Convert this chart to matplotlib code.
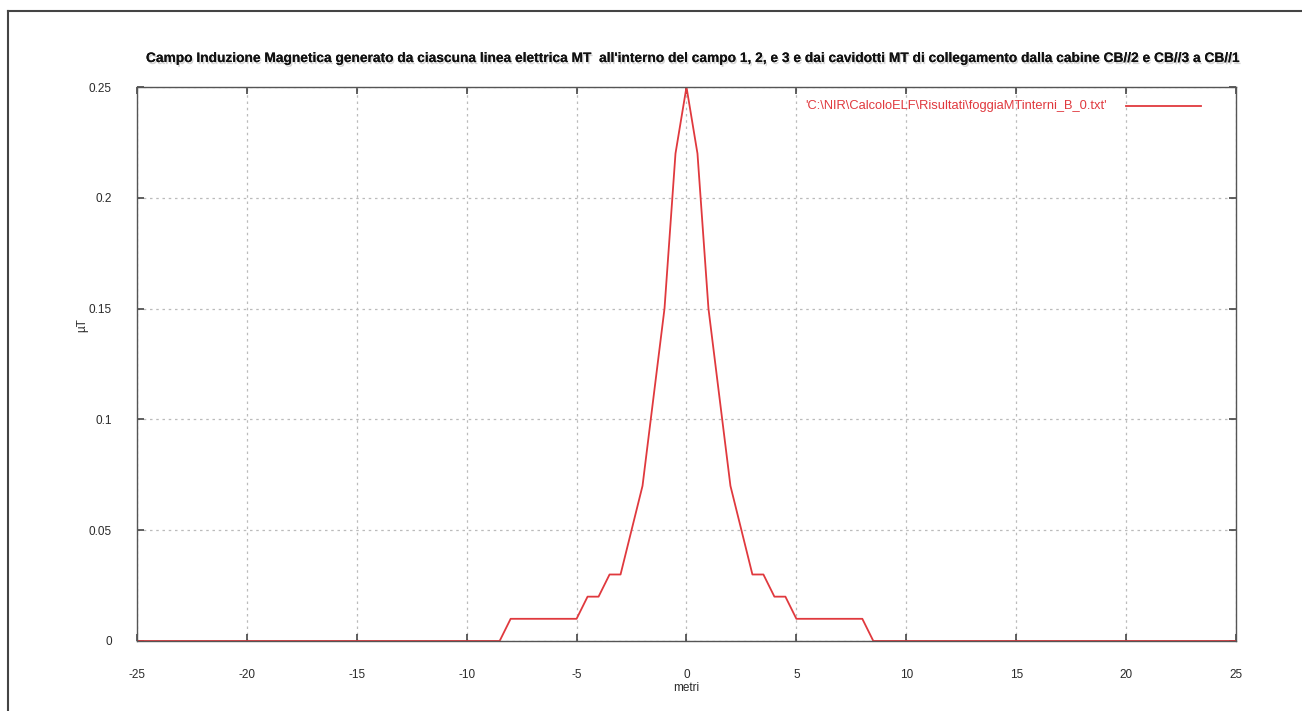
import numpy as np
import matplotlib
matplotlib.use("Agg")
import matplotlib.pyplot as plt
import matplotlib.patheffects as pe
from matplotlib.lines import Line2D

plt.rcParams['font.family'] = ['Liberation Sans', 'DejaVu Sans']

# dati (metri, microTesla)
metri = [-25, -8.5, -8, -5, -4.5, -4, -3.5, -3, -2.5, -2, -1.5, -1, -0.5, 0,
         0.5, 1, 1.5, 2, 2.5, 3, 3.5, 4, 4.5, 5, 8, 8.5, 25]
campo_uT = [0, 0, 0.01, 0.01, 0.02, 0.02, 0.03, 0.03, 0.05, 0.07, 0.11, 0.15, 0.22, 0.25,
            0.22, 0.15, 0.11, 0.07, 0.05, 0.03, 0.03, 0.02, 0.02, 0.01, 0.01, 0, 0]

xticks = [-25, -20, -15, -10, -5, 0, 5, 10, 15, 20, 25]
yticks = [0, 0.05, 0.1, 0.15, 0.2, 0.25]
ylabels = ["0", "0.05", "0.1", "0.15", "0.2", "0.25"]

titolo = ("Campo Induzione Magnetica generato da ciascuna linea elettrica MT  all'interno del campo 1, 2, e 3 "
          "e dai cavidotti MT di collegamento dalla cabine CB//2 e CB//3 a CB//1")
legenda = "'C:\\NIR\\CalcoloELF\\Risultati\\foggiaMTinterni_B_0.txt'"

rosso = '#e0393e'
grigio = '#444444'

fig = plt.figure(figsize=(13.02, 7.11), dpi=100)
ax = fig.add_axes([0.1052, 0.0985, 0.8441, 0.7791])

ax.plot(metri, campo_uT, color=rosso, lw=1.3)

ax.set_xlim(-25, 25)
ax.set_ylim(0, 0.25)
ax.set_xticks(xticks)
ax.set_xticklabels([str(v) for v in xticks])
ax.set_yticks(yticks)
ax.set_yticklabels(ylabels)

ax.tick_params(direction='in', length=5, width=1.2, color=grigio, labelcolor='#2a2a2a',
               labelsize=8.5, top=True, right=True)
ax.tick_params(axis='x', pad=20)
ax.tick_params(axis='y', pad=18)
for s in ax.spines.values():
    s.set_color('#555555')
    s.set_linewidth(1.0)

ax.grid(True, color='#bbbbbb', linestyle=(0, (2, 3)), linewidth=0.9)
ax.set_axisbelow(True)

ax.set_xlabel("metri", fontsize=8.5, color='#2a2a2a')
ax.set_ylabel("\u00b5T", fontsize=8.5, color='#2a2a2a')
ax.xaxis.set_label_coords(0.5, -0.074)
ax.yaxis.set_label_coords(-0.0446, 0.57)

t = fig.text(0.533, 0.9184, titolo, ha='center', va='center', fontsize=9.9,
             fontweight='bold', color='#111111')
t.set_path_effects([pe.withSimplePatchShadow(offset=(1, -1.5), shadow_rgbFace='#888888', alpha=0.35),
                    pe.Normal()])

# legenda stile gnuplot
fig.text(1107 / 1302, 1 - 106 / 711, legenda, ha='right', va='center', fontsize=9.3, color=rosso)
fig.add_artist(Line2D([1126 / 1302, 1201 / 1302], [1 - 106 / 711] * 2, color=rosso, lw=1.3))

# cornice esterna
fig.add_artist(Line2D([8 / 1302, 8 / 1302], [0, 1 - 11 / 711], color=grigio, lw=1.5))
fig.add_artist(Line2D([8 / 1302, 1], [1 - 11 / 711] * 2, color=grigio, lw=1.5))

fig.savefig("out.png", dpi=100)
